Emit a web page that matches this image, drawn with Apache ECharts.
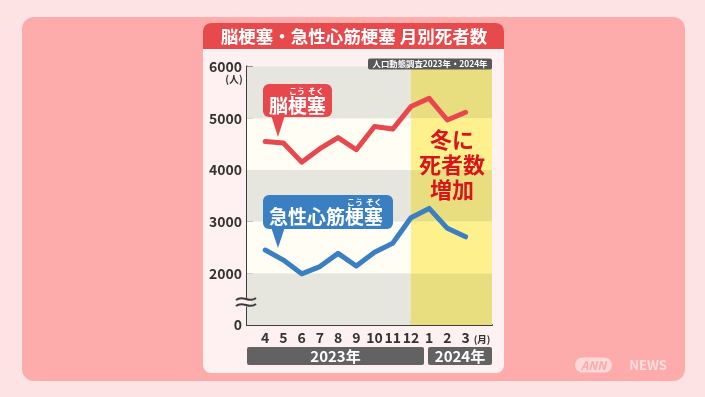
<!DOCTYPE html>
<html><head><meta charset="utf-8">
<script src="https://cdn.jsdelivr.net/npm/echarts@6/dist/echarts.min.js"></script>
<style>html,body{margin:0;padding:0;background:#fde3e4}#c{width:705px;height:397px}</style>
</head><body><div id="c"></div>
<script>
const months = ['4','5','6','7','8','9','10','11','12','1','2','3'];
const cerebral = [4550,4520,4150,4410,4625,4390,4840,4790,5225,5385,4965,5115];
const myocardial = [2450,2255,1990,2130,2385,2140,2405,2580,3075,3255,2870,2705];
const yTickValues = [1000,2000,3000,4000,5000,6000];
const yTickLabels = ['0','2000','3000','4000','5000','6000'];
const years = ['2023年','2024年'];
const winterStart = 9; // month index position of 12月
const FONT = '"Noto Sans CJK JP", "Noto Sans", sans-serif';

const xMax = 13.45;
const bandsGray = '#e6e5de', bandsLight = '#fffdf4', yelDark = '#e9de7f', yelLight = '#fef18d';
const bands = [];
for (let i = 0; i < yTickValues.length - 1; i++) {
  const lo = yTickValues[i], hi = yTickValues[i+1];
  const grayBand = ((yTickValues.length - 2 - i) % 2 === 0);
  bands.push([{xAxis:0, yAxis:lo, itemStyle:{color: grayBand?bandsGray:bandsLight}}, {xAxis:winterStart, yAxis:hi}]);
  bands.push([{xAxis:winterStart, yAxis:lo, itemStyle:{color: grayBand?yelDark:yelLight}}, {xAxis:xMax, yAxis:hi}]);
}
const toPts = arr => arr.map((v,i)=>[i+1, v]);
const tickPos = months.map((m,i)=>i+1);

const chart = echarts.init(document.getElementById('c'));
const option = {
  backgroundColor: '#fde3e4',
  animation: false,
  grid: {left: 247, right: 213, top: 66.5, bottom: 72},
  xAxis: {
    type: 'value', min: 0, max: xMax,
    axisLine: {show: true, onZero: false, lineStyle: {color: '#3d3d3d', width: 2}},
    axisTick: {show: true, inside: true, length: 6, customValues: tickPos, lineStyle: {color: '#3d3d3d', width: 2}},
    axisLabel: {customValues: tickPos, formatter: v => months[v-1] || '', margin: 6, fontSize: 14, fontWeight: 'bold', color: '#333', fontFamily: FONT},
    splitLine: {show: false}
  },
  yAxis: {
    type: 'value', min: 1000, max: 6000, interval: 1000,
    axisLine: {show: true, lineStyle: {color: '#3d3d3d', width: 2}},
    axisTick: {show: true, inside: true, length: 6, lineStyle: {color: '#3d3d3d', width: 2}},
    axisLabel: {formatter: v => yTickLabels[yTickValues.indexOf(v)], margin: 5, fontSize: 14, fontWeight: 'bold', color: '#333', fontFamily: FONT},
    splitLine: {show: false}
  },
  series: [
    {type: 'line', data: [], z: 1, silent: true, markArea: {silent: true, data: bands}},
    {type: 'line', data: toPts(cerebral), z: 3, symbol: 'none', lineStyle: {color: '#e8474d', width: 5, cap: 'round', join: 'round'}},
    {type: 'line', data: toPts(myocardial), z: 3, symbol: 'none', lineStyle: {color: '#3a7fc1', width: 5, cap: 'round', join: 'round'}}
  ],
  graphic: [
    {type: 'rect', z: -10, shape: {x: 22, y: 17, width: 663, height: 364, r: 12}, style: {fill: '#fdabab'}},
    {type: 'rect', z: -9, shape: {x: 203, y: 23, width: 301, height: 350, r: 8}, style: {fill: '#fff0f2'}},
    {type: 'rect', z: -8, shape: {x: 203, y: 23, width: 301, height: 26, r: [8,8,0,0]}, style: {fill: '#e64a4c'}},
    {type: 'text', z: 20, x: 354, y: 36.5, style: {text: '脳梗塞・急性心筋梗塞 月別死者数', fill: '#fff', font: 'bold 17.5px ' + FONT, align: 'center', verticalAlign: 'middle'}},
    {type: 'rect', z: 20, shape: {x: 368, y: 58.5, width: 124, height: 11, r: 2}, style: {fill: '#585858'}},
    {type: 'text', z: 21, x: 430, y: 64.2, style: {text: '人口動態調査2023年・2024年', fill: '#fff', font: 'bold 8.4px ' + FONT, align: 'center', verticalAlign: 'middle'}},
    {type: 'text', z: 20, x: 234, y: 79, style: {text: '(人)', fill: '#333', font: 'bold 10px ' + FONT, align: 'center', verticalAlign: 'middle'}},
    {type: 'text', z: 20, x: 482, y: 339, style: {text: '(月)', fill: '#333', font: 'bold 9.5px ' + FONT, align: 'center', verticalAlign: 'middle'}},
    // axis break
    {type: 'rect', z: 20, shape: {x: 243, y: 298.5, width: 8, height: 8}, style: {fill: '#fff0f2'}},
    {type: 'bezierCurve', z: 21, shape: {x1: 236, y1: 300, x2: 256, y2: 298, cpx1: 243, cpy1: 294, cpx2: 249, cpy2: 304}, style: {stroke: '#3d3d3d', lineWidth: 2, fill: null}},
    {type: 'bezierCurve', z: 21, shape: {x1: 236, y1: 306, x2: 256, y2: 304, cpx1: 243, cpy1: 300, cpx2: 249, cpy2: 310}, style: {stroke: '#3d3d3d', lineWidth: 2, fill: null}},
    // year bars
    {type: 'rect', z: 20, shape: {x: 247, y: 347, width: 177, height: 18, r: 2}, style: {fill: '#626262'}},
    {type: 'text', z: 21, x: 335.5, y: 356.5, style: {text: years[0], fill: '#fff', font: 'bold 15px ' + FONT, align: 'center', verticalAlign: 'middle'}},
    {type: 'rect', z: 20, shape: {x: 428, y: 347, width: 64, height: 18, r: 2}, style: {fill: '#626262'}},
    {type: 'text', z: 21, x: 460, y: 356.5, style: {text: years[1], fill: '#fff', font: 'bold 15px ' + FONT, align: 'center', verticalAlign: 'middle'}},
    // red bubble
    {type: 'rect', z: 30, shape: {x: 263, y: 84, width: 69, height: 33, r: 6}, style: {fill: '#e8474d'}},
    {type: 'polygon', z: 30, shape: {points: [[271,115],[285,115],[278,137]]}, style: {fill: '#e8474d'}},
    {type: 'text', z: 31, x: 297.5, y: 106, style: {text: '脳梗塞', fill: '#fff', font: 'bold 19px ' + FONT, align: 'center', verticalAlign: 'middle'}},
    {type: 'text', z: 31, x: 297, y: 90.5, style: {text: 'こう', fill: '#fff', font: 'bold 8px ' + FONT, align: 'center', verticalAlign: 'middle'}},
    {type: 'text', z: 31, x: 316, y: 90.5, style: {text: 'そく', fill: '#fff', font: 'bold 8px ' + FONT, align: 'center', verticalAlign: 'middle'}},
    // blue bubble
    {type: 'rect', z: 30, shape: {x: 263, y: 195, width: 130, height: 34, r: 6}, style: {fill: '#3a7fc1'}},
    {type: 'polygon', z: 30, shape: {points: [[271,227],[285,227],[278,248]]}, style: {fill: '#3a7fc1'}},
    {type: 'text', z: 31, x: 326, y: 217, style: {text: '急性心筋梗塞', fill: '#fff', font: 'bold 19px ' + FONT, align: 'center', verticalAlign: 'middle'}},
    {type: 'text', z: 31, x: 355, y: 201.5, style: {text: 'こう', fill: '#fff', font: 'bold 8px ' + FONT, align: 'center', verticalAlign: 'middle'}},
    {type: 'text', z: 31, x: 374, y: 201.5, style: {text: 'そく', fill: '#fff', font: 'bold 8px ' + FONT, align: 'center', verticalAlign: 'middle'}},
    // winter note
    {type: 'text', z: 31, x: 452, y: 165, style: {text: '冬に\n死者数\n増加', fill: '#d9151b', font: 'bold 22px ' + FONT, lineHeight: 25, align: 'center', verticalAlign: 'middle'}},
    // logo
    {type: 'rect', z: 5, shape: {x: 575, y: 357.5, width: 37, height: 15, r: 7.5}, style: {fill: 'rgba(255,255,255,0.55)', stroke: null}},
    {type: 'text', z: 6, x: 593.5, y: 365.5, style: {text: 'ANN', fill: '#fdabab', font: 'italic bold 12px ' + FONT, align: 'center', verticalAlign: 'middle'}},
    {type: 'text', z: 6, x: 648, y: 365.5, style: {text: 'NEWS', fill: 'rgba(255,255,255,0.6)', font: 'bold 13px ' + FONT, align: 'center', verticalAlign: 'middle'}}
  ]
};
chart.setOption(option);
</script></body></html>
